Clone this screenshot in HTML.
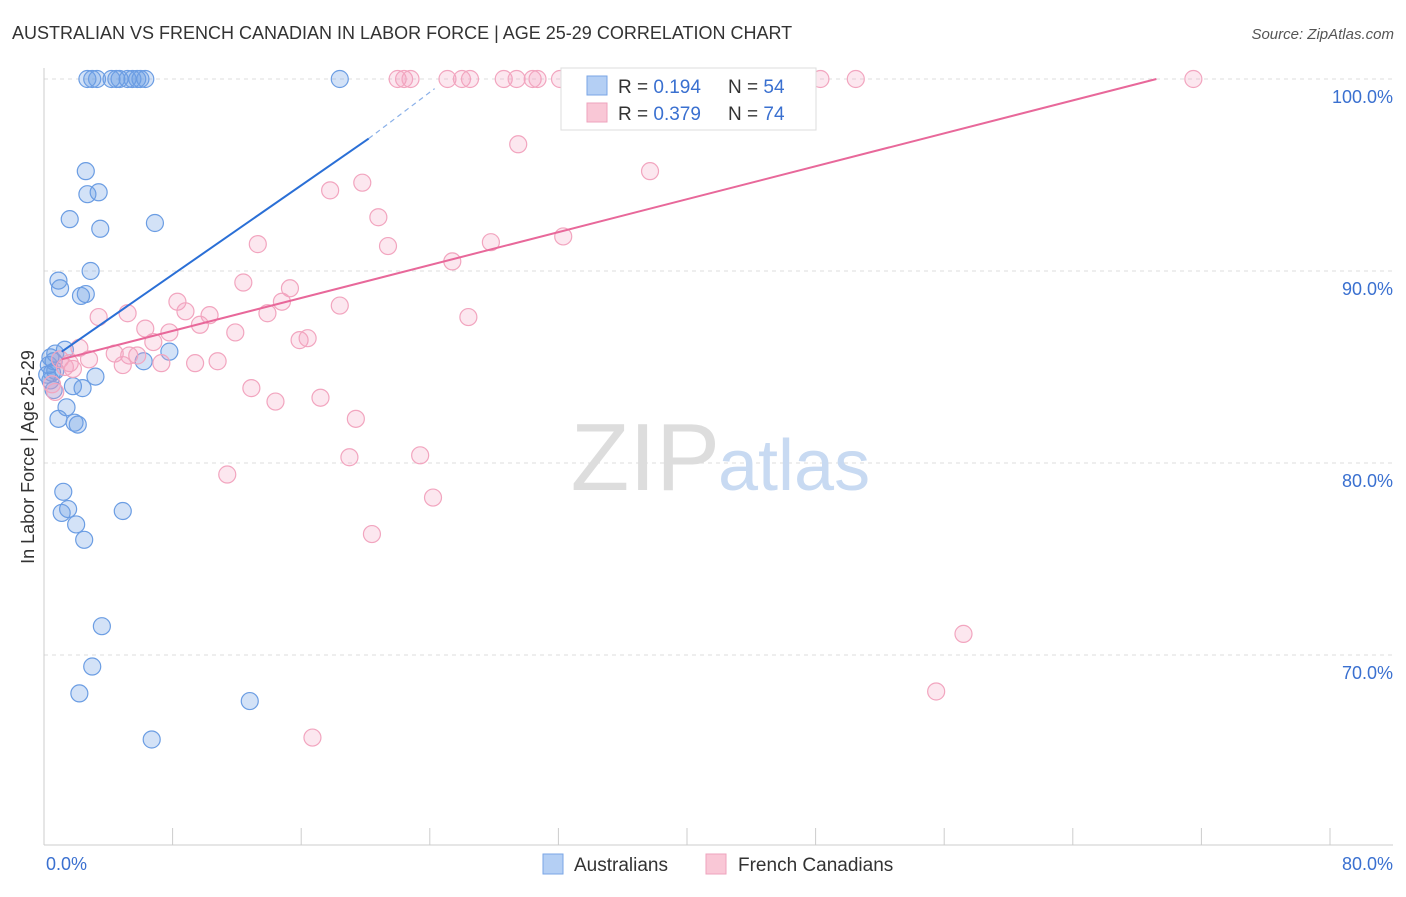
<!DOCTYPE html>
<html><head><meta charset="utf-8"><style>
body{margin:0;background:#fff;font-family:"Liberation Sans",sans-serif;}
svg text{font-family:"Liberation Sans",sans-serif;}
</style></head><body>
<svg id="chart" width="1406" height="892">
<text x="12" y="39" font-size="18" fill="#333">AUSTRALIAN VS FRENCH CANADIAN IN LABOR FORCE | AGE 25-29 CORRELATION CHART</text>
<text x="1394" y="39" font-size="15" fill="#555" text-anchor="end" font-style="italic">Source: ZipAtlas.com</text>
<g id="grid"></g>
<text x="720" y="490" font-size="96" fill="#ddd" text-anchor="end" font-family="Liberation Serif">ZIP</text>
<text x="718" y="490" font-size="72" fill="#c8daf2">atlas</text>
<line x1="44" y1="68" x2="44" y2="845" stroke="#ccc"/>
<line x1="44" y1="845" x2="1393" y2="845" stroke="#ccc"/>
<g id="xt"></g>
<text x="46" y="870" font-size="18" fill="#3a70d0">0.0%</text>
<text x="1393" y="870" font-size="18" fill="#3a70d0" text-anchor="end">80.0%</text>
<text transform="translate(34,457) rotate(-90)" font-size="18" fill="#333" text-anchor="middle">In Labor Force | Age 25-29</text>
<g id="pts"></g>
<g id="trend"></g>
<g>
<rect x="561" y="68" width="255" height="62" fill="#fff" stroke="#ddd"/>
<rect x="587" y="76" width="20" height="19" fill="#b4cff4" stroke="#7aa6e6"/>
<rect x="587" y="103" width="20" height="19" fill="#f9c7d6" stroke="#eea3bd"/>
<text x="618" y="93" font-size="19" fill="#333">R = <tspan fill="#3a70d0">0.194</tspan></text>
<text x="728" y="93" font-size="19" fill="#333">N = <tspan fill="#3a70d0">54</tspan></text>
<text x="618" y="120" font-size="19" fill="#333">R = <tspan fill="#3a70d0">0.379</tspan></text>
<text x="728" y="120" font-size="19" fill="#333">N = <tspan fill="#3a70d0">74</tspan></text>
</g>
<g>
<rect x="543" y="854" width="20" height="20" fill="#b4cff4" stroke="#7aa6e6"/>
<text x="574" y="871" font-size="19" fill="#333">Australians</text>
<rect x="706" y="854" width="20" height="20" fill="#f9c7d6" stroke="#eea3bd"/>
<text x="738" y="871" font-size="19" fill="#333">French Canadians</text>
</g>
</svg>
<script>
const yTicks=[100,90,80,70];
const yTickLabels=["100.0%","90.0%","80.0%","70.0%"];
const xTicks=[0,8,16,24,32,40,48,56,64,72,80];
const blueX=[2.7,3.0,3.3,4.2,4.5,4.7,5.2,5.5,5.8,6.0,6.3,18.4,2.6,2.7,3.4,1.6,3.5,6.9,2.9,0.9,1.0,2.6,2.3,1.3,0.7,0.4,0.3,0.5,0.4,3.2,1.8,2.4,0.6,1.4,0.9,1.9,2.1,7.8,6.2,1.2,1.5,1.1,2.0,4.9,2.5,3.6,3.0,2.2,12.8,6.7,0.6,0.2,0.7];
const blueY=[100,100,100,100,100,100,100,100,100,100,100,100,95.2,94.0,94.1,92.7,92.2,92.5,90.0,89.5,89.1,88.8,88.7,85.9,85.7,85.5,85.1,84.7,84.3,84.5,84.0,83.9,83.8,82.9,82.3,82.1,82.0,85.8,85.3,78.5,77.6,77.4,76.8,77.5,76.0,71.5,69.4,68.0,67.6,65.6,85.3,84.6,84.8];
const pinkX=[22.4,22.0,22.8,25.1,26.0,26.5,28.6,29.4,30.4,30.7,32.1,35.3,36.5,37.2,38.8,44.5,48.3,50.5,71.5,29.5,37.7,17.8,19.8,20.8,13.3,21.4,27.8,32.3,25.4,12.4,15.3,8.3,8.8,14.8,18.4,10.3,9.7,5.2,3.4,6.3,7.8,11.9,13.9,15.9,16.4,26.4,6.8,2.2,4.4,2.8,5.3,5.8,7.3,9.4,10.8,4.9,1.6,1.3,1.8,12.9,14.4,17.2,19.4,0.7,19.0,11.4,23.4,24.2,20.4,57.2,55.5,16.7,1.0,0.5];
const pinkY=[100,100,100,100,100,100,100,100,100,100,100,100,100,100,100,100,100,100,100,96.6,95.2,94.2,94.6,92.8,91.4,91.3,91.5,91.8,90.5,89.4,89.1,88.4,87.9,88.4,88.2,87.7,87.2,87.8,87.6,87.0,86.8,86.8,87.8,86.4,86.5,87.6,86.3,86.0,85.7,85.4,85.6,85.6,85.2,85.2,85.3,85.1,85.2,85.0,84.9,83.9,83.2,83.4,82.3,83.7,80.3,79.4,80.4,78.2,76.3,71.1,68.1,65.7,85.4,84.1];
const blueTrend=[1.1,85.8,20.2,96.9];
const blueTrendDash=[20.2,96.9,24.3,99.5];
const pinkTrend=[1.1,85.4,69.2,100];
const NS="http://www.w3.org/2000/svg";
const xs=v=>44+v*(1330-44)/80;
const ys=v=>79+(100-v)*19.2;
function mk(tag,attrs,parent){const e=document.createElementNS(NS,tag);for(const k in attrs)e.setAttribute(k,attrs[k]);document.getElementById(parent).appendChild(e);return e;}
yTicks.forEach((t,i)=>{
 const l=mk('line',{x1:44,x2:1393,y1:ys(t),y2:ys(t),stroke:'#ddd','stroke-dasharray':'4,4'},'grid');
 
 
 const tx=mk('text',{x:1393,y:ys(t)+24,'font-size':18,fill:'#3a70d0','text-anchor':'end'},'grid');
 tx.textContent=yTickLabels[i];
 
 
});
xTicks.forEach(t=>{
 const l=mk('line',{x1:xs(t),x2:xs(t),y1:828,y2:845,stroke:'#ccc'},'xt');
 
 
});
blueX.forEach((x,i)=>{
 const c=mk('circle',{cx:xs(x),cy:ys(blueY[i]),r:8.5,fill:'rgba(110,160,230,0.3)',stroke:'#6b9de3','stroke-width':1.2},'pts');
 
 
});
pinkX.forEach((x,i)=>{
 const c=mk('circle',{cx:xs(x),cy:ys(pinkY[i]),r:8.5,fill:'rgba(245,160,190,0.25)',stroke:'#f2a5bf','stroke-width':1.2},'pts');
 
 
});
const bt=mk('line',{x1:xs(blueTrend[0]),y1:ys(blueTrend[1]),x2:xs(blueTrend[2]),y2:ys(blueTrend[3]),stroke:'#2a6fd6','stroke-width':2},'trend');


const bd=mk('line',{x1:xs(blueTrendDash[0]),y1:ys(blueTrendDash[1]),x2:xs(blueTrendDash[2]),y2:ys(blueTrendDash[3]),stroke:'#8ab0e8','stroke-width':1.2,'stroke-dasharray':'5,4'},'trend');


const pt=mk('line',{x1:xs(pinkTrend[0]),y1:ys(pinkTrend[1]),x2:xs(pinkTrend[2]),y2:ys(pinkTrend[3]),stroke:'#e8689a','stroke-width':2},'trend');


</script>
</body></html>
